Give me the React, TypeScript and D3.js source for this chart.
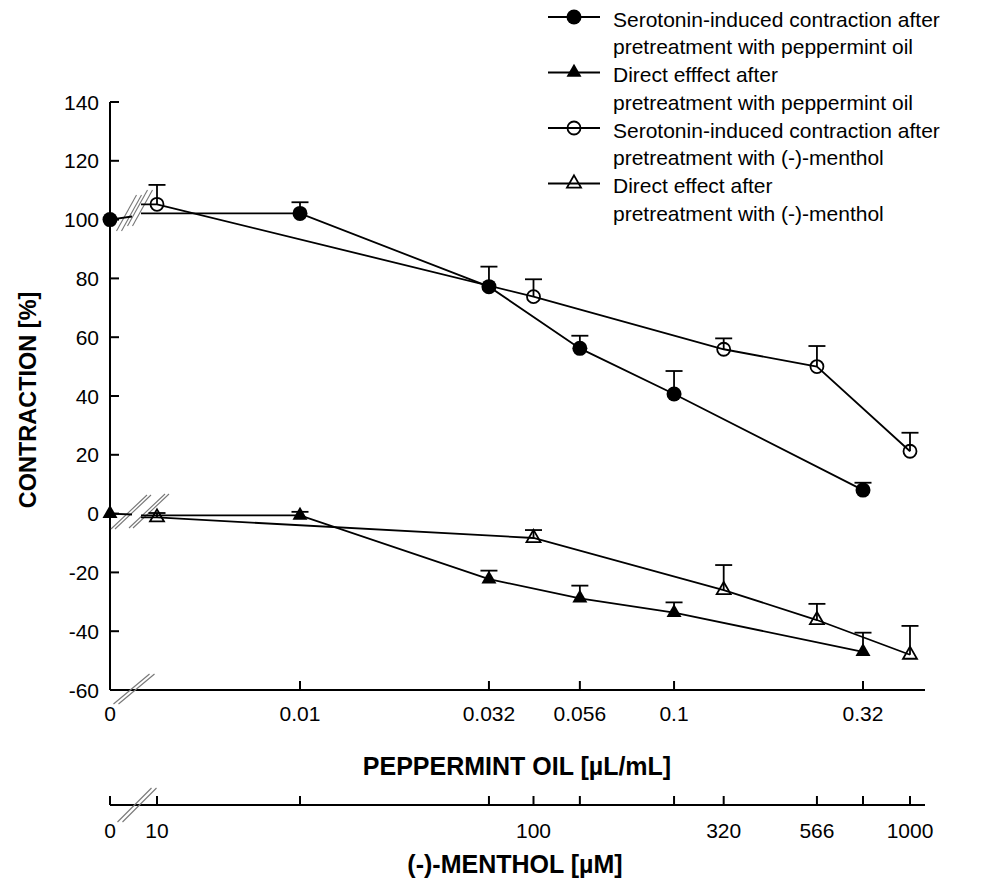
import React from "react";
import * as d3 from "d3";

// ---- data ----
const pepConc = [0, 0.01, 0.032, 0.056, 0.1, 0.32];
const pepTickLabels = ["0", "0.01", "0.032", "0.056", "0.1", "0.32"];
const serotoninPep = [100, 102.1, 77.2, 56.2, 40.7, 8.0];
const serotoninPepErr = [0, 3.8, 6.8, 4.3, 7.8, 2.5];
const directPep = [0, -0.6, -22.3, -28.8, -33.7, -47];
const directPepErr = [0, 1.2, 2.9, 4.3, 3.5, 6.5];

const menConc = [10, 100, 320, 566, 1000];
const menTickLabels = ["10", "100", "320", "566", "1000"];
const serotoninMen = [105.2, 73.8, 55.9, 50, 21.2];
const serotoninMenErr = [6.6, 5.9, 3.7, 7, 6.3];
const directMen = [-1.3, -8.3, -26, -36.2, -48];
const directMenErr = [1.5, 2.7, 8.5, 5.5, 9.8];

const yTicks = [140, 120, 100, 80, 60, 40, 20, 0, -20, -40, -60];

const legendLabels = [
  ["Serotonin-induced contraction after", "pretreatment with peppermint oil"],
  ["Direct efffect after", "pretreatment with peppermint oil"],
  ["Serotonin-induced contraction after", "pretreatment with (-)-menthol"],
  ["Direct effect after", "pretreatment with (-)-menthol"],
];

// ---- layout ----
const W = 981;
const H = 888;
const X0 = 110; // x of the "0" concentration (axis origin)
const XEND = 925;
const AX_Y = 690;
const MEN_Y = 805;
const BREAK_START = 132;
const BREAK_END = 141;
const FONT = "'Liberation Sans', Arial, Helvetica, sans-serif";

const y = d3.scaleLinear().domain([-60, 140]).range([690, 102]);
const xPep = d3.scaleLog().domain([0.01, 0.32]).range([300, 863]);
const xMen = d3.scaleLog().domain([10, 1000]).range([157, 910]);

type Kind = "filledCircle" | "filledTri" | "openCircle" | "openTri";

function Marker({ kind, cx, cy }: { kind: Kind; cx: number; cy: number }) {
  if (kind === "filledCircle") return <circle cx={cx} cy={cy} r={7.5} fill="#000" />;
  if (kind === "openCircle")
    return <circle cx={cx} cy={cy} r={6.5} fill="none" stroke="#000" strokeWidth={1.8} />;
  const s = kind === "filledTri" ? 15 : 14;
  const h = (s * Math.sqrt(3)) / 2;
  const p = `M${cx},${cy - (2 * h) / 3}L${cx + s / 2},${cy + h / 3}L${cx - s / 2},${cy + h / 3}Z`;
  return kind === "filledTri" ? (
    <path d={p} fill="#000" />
  ) : (
    <path d={p} fill="none" stroke="#000" strokeWidth={1.8} />
  );
}

function BreakMark({ cx, cy, hx, hy, gap = 5 }: { cx: number; cy: number; hx: number; hy: number; gap?: number }) {
  return (
    <g stroke="#777" strokeWidth={1.1}>
      <line x1={cx - hx - gap / 2} y1={cy - hy} x2={cx + hx - gap / 2} y2={cy + hy} />
      <line x1={cx - hx + gap / 2} y1={cy - hy} x2={cx + hx + gap / 2} y2={cy + hy} />
    </g>
  );
}

interface Series {
  kind: Kind;
  xs: number[];
  vals: number[];
  errs: number[];
  hasZero: boolean;
}

const line = d3
  .line<[number, number]>()
  .x((d) => d[0])
  .y((d) => d[1]);

function SeriesView({ s }: { s: Series }) {
  const pts: [number, number][] = s.xs.map((xv, i) => [xv, y(s.vals[i])]);
  const startIdx = s.hasZero ? 1 : 0;
  const main = pts.slice(startIdx);
  const firstVal = s.vals[startIdx];
  const segs: string[] = [];
  if (s.hasZero) {
    segs.push(
      line([
        [pts[0][0], pts[0][1]],
        [BREAK_START, y((s.vals[0] + firstVal) / 2)],
      ]) as string
    );
  }
  segs.push(line([[BREAK_END, y(firstVal)], ...main]) as string);
  return (
    <g>
      {segs.map((d, i) => (
        <path key={i} d={d} fill="none" stroke="#000" strokeWidth={1.8} />
      ))}
      {pts.map(([px, py], i) =>
        s.errs[i] > 0 ? (
          <g key={"e" + i} stroke="#000" strokeWidth={1.8}>
            <line x1={px} x2={px} y1={py} y2={y(s.vals[i] + s.errs[i])} />
            <line x1={px - 8.5} x2={px + 8.5} y1={y(s.vals[i] + s.errs[i])} y2={y(s.vals[i] + s.errs[i])} />
          </g>
        ) : null
      )}
      {pts.map(([px, py], i) => (
        <Marker key={"m" + i} kind={s.kind} cx={px} cy={py} />
      ))}
    </g>
  );
}

export default function App() {
  const pepX = pepConc.map((c) => (c === 0 ? X0 : xPep(c)));
  const menX = menConc.map((c) => xMen(c));

  const series: Series[] = [
    { kind: "openCircle", xs: menX, vals: serotoninMen, errs: serotoninMenErr, hasZero: false },
    { kind: "openTri", xs: menX, vals: directMen, errs: directMenErr, hasZero: false },
    { kind: "filledCircle", xs: pepX, vals: serotoninPep, errs: serotoninPepErr, hasZero: true },
    { kind: "filledTri", xs: pepX, vals: directPep, errs: directPepErr, hasZero: true },
  ];
  const legendKinds: Kind[] = ["filledCircle", "filledTri", "openCircle", "openTri"];

  return (
    <svg
      width={W}
      height={H}
      viewBox={`0 0 ${W} ${H}`}
      style={{ position: "absolute", left: 0, top: 0, display: "block", background: "#fff" }}
      fontFamily={FONT}
    >
      <rect width={W} height={H} fill="#fff" />

      {/* y axis */}
      <line x1={X0} x2={X0} y1={y(140)} y2={AX_Y} stroke="#000" strokeWidth={2} />
      {yTicks.map((t) => (
        <g key={t}>
          <line x1={X0} x2={X0 + 9} y1={y(t)} y2={y(t)} stroke="#000" strokeWidth={2} />
          <text x={99} y={y(t)} dy="0.36em" textAnchor="end" fontSize={21} fill="#000">
            {t}
          </text>
        </g>
      ))}
      <text
        transform={`translate(36,400) rotate(-90)`}
        textAnchor="middle"
        fontSize={23.5}
        fontWeight="bold"
        fill="#000"
      >
        CONTRACTION [%]
      </text>

      {/* peppermint x axis */}
      <line x1={X0} x2={XEND} y1={AX_Y} y2={AX_Y} stroke="#000" strokeWidth={2} />
      {pepX.map((px, i) => (
        <g key={i}>
          <line x1={px} x2={px} y1={AX_Y} y2={AX_Y - 9} stroke="#000" strokeWidth={2} />
          <text x={px} y={721} textAnchor="middle" fontSize={21} fill="#000">
            {pepTickLabels[i]}
          </text>
        </g>
      ))}
      <text x={517} y={775} textAnchor="middle" fontSize={25} fontWeight="bold" fill="#000">
        PEPPERMINT OIL [µL/mL]
      </text>

      {/* menthol x axis */}
      <line x1={X0} x2={XEND} y1={MEN_Y} y2={MEN_Y} stroke="#000" strokeWidth={2} />
      <line x1={X0} x2={X0} y1={MEN_Y} y2={MEN_Y - 9} stroke="#000" strokeWidth={2} />
      <text x={X0} y={838} textAnchor="middle" fontSize={21} fill="#000">0</text>
      {pepX.slice(1).map((px, i) => (
        <line key={"pt" + i} x1={px} x2={px} y1={MEN_Y} y2={MEN_Y - 9} stroke="#000" strokeWidth={2} />
      ))}
      {menX.map((mx, i) => (
        <g key={"m" + i}>
          <line x1={mx} x2={mx} y1={MEN_Y} y2={MEN_Y - 9} stroke="#000" strokeWidth={2} />
          <text x={mx} y={838} textAnchor="middle" fontSize={21} fill="#000">
            {menTickLabels[i]}
          </text>
        </g>
      ))}
      <text x={515} y={873} textAnchor="middle" fontSize={25} fontWeight="bold" fill="#000">
        (-)-MENTHOL [µM]
      </text>

      {/* break marks */}
      <BreakMark cx={134} cy={689} hx={18} hy={-15} />
      <BreakMark cx={137} cy={805} hx={17} hy={-17} />
      <BreakMark cx={129} cy={213} hx={10} hy={-18} />
      <BreakMark cx={140} cy={208} hx={10} hy={-18} />
      <BreakMark cx={131} cy={512} hx={18} hy={-17} gap={4} />
      <BreakMark cx={149} cy={511} hx={18} hy={-17} gap={4} />

      {/* data */}
      {series.map((s, i) => (
        <SeriesView key={i} s={s} />
      ))}

      {/* legend */}
      {legendKinds.map((k, i) => {
        const my = 17 + i * 55.5;
        return (
          <g key={"lg" + i}>
            <line x1={548} x2={600} y1={my} y2={my} stroke="#000" strokeWidth={1.8} />
            <Marker kind={k} cx={574} cy={my} />
            <text x={613} y={my + 9.7} fontSize={21} fill="#000">
              {legendLabels[i][0]}
            </text>
            <text x={613} y={my + 37.2} fontSize={21} fill="#000">
              {legendLabels[i][1]}
            </text>
          </g>
        );
      })}
    </svg>
  );
}
